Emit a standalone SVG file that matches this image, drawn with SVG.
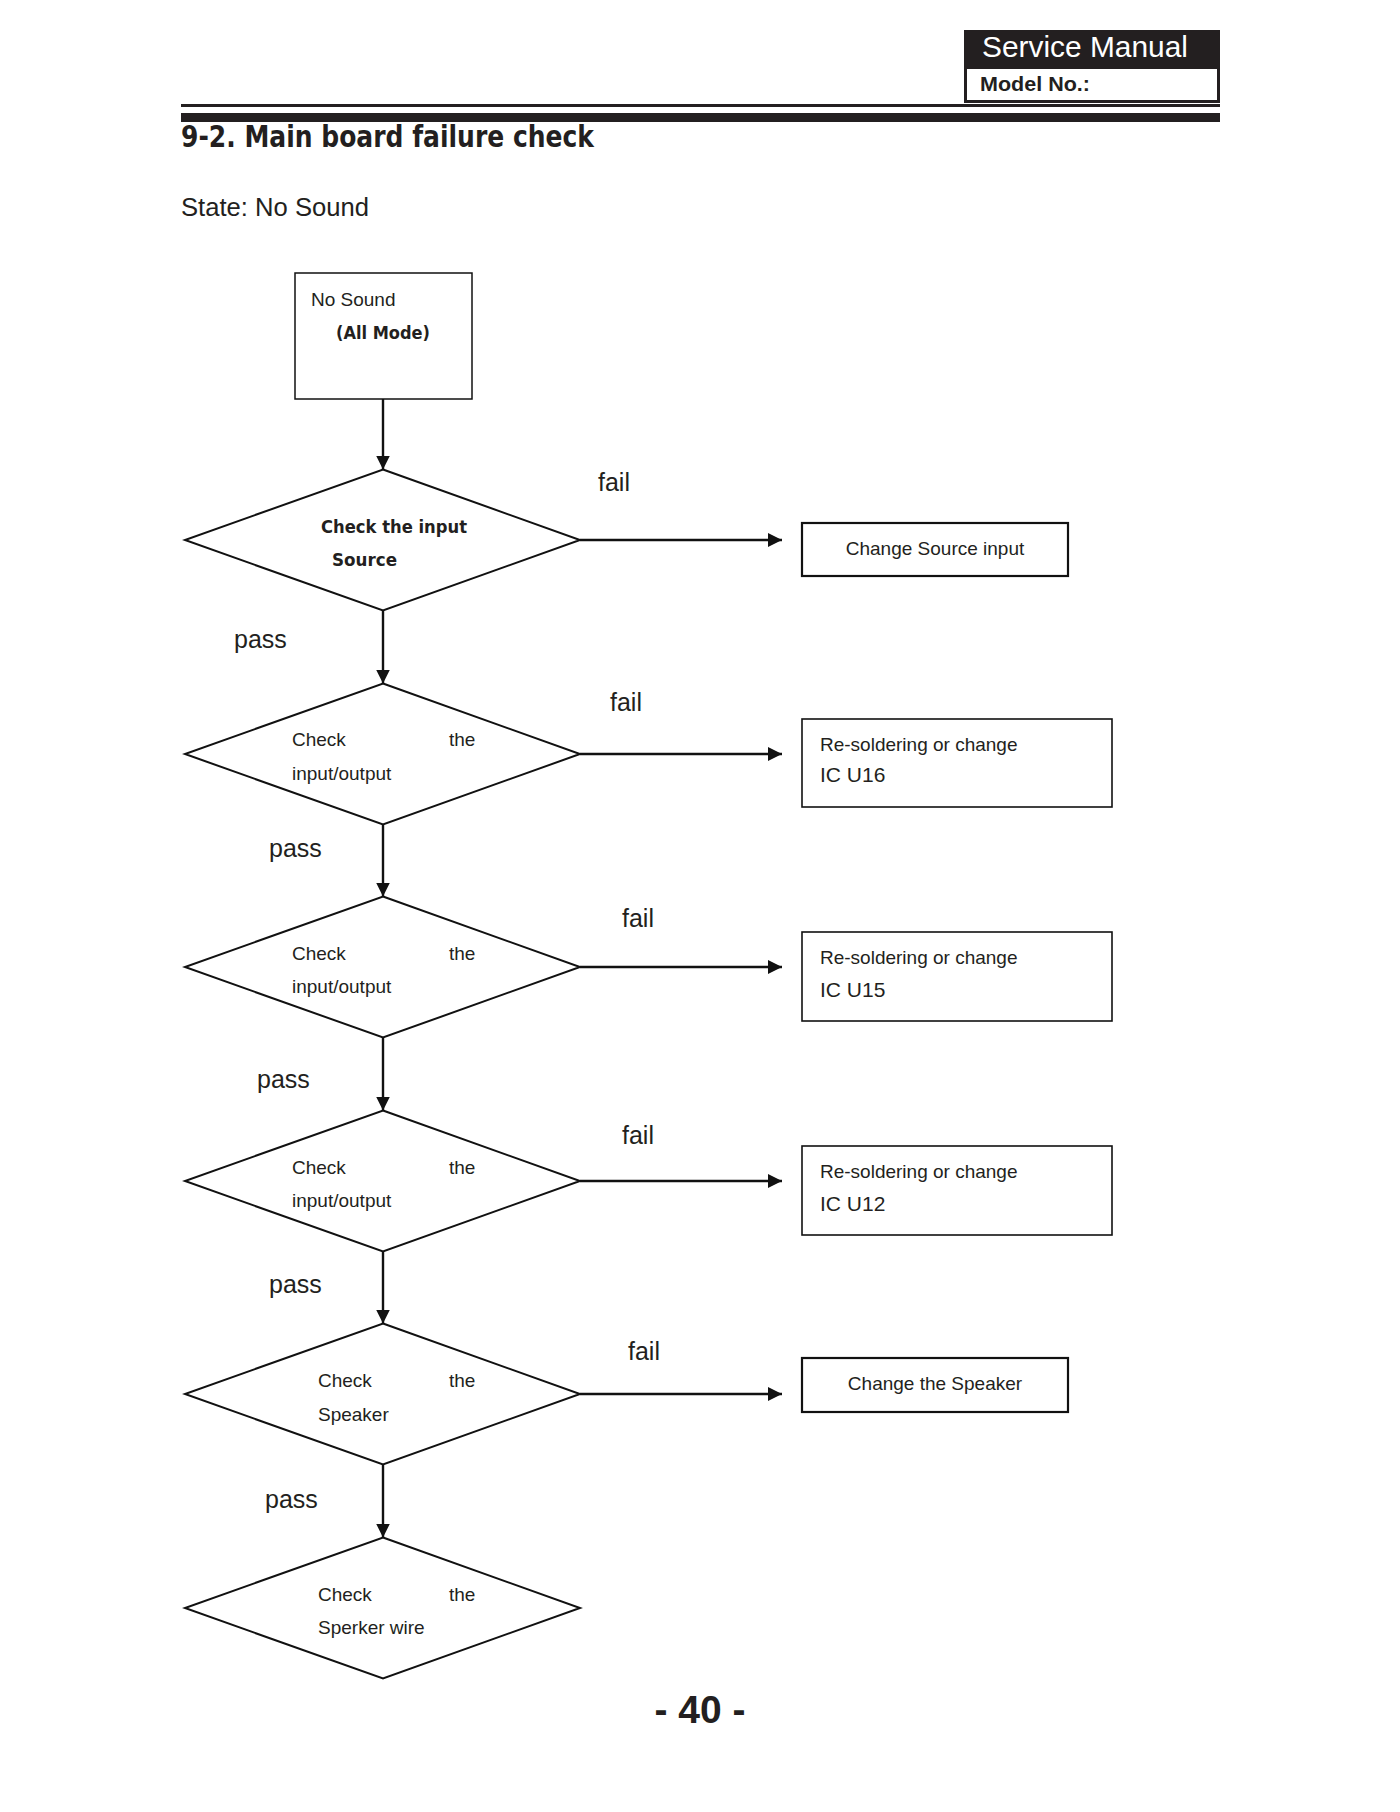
<svg xmlns="http://www.w3.org/2000/svg" width="1400" height="1812" viewBox="0 0 1400 1812">
<style>
.t{font-family:"Liberation Sans",Arial,sans-serif;fill:#231f20}
.b{font-family:"DejaVu Sans","Liberation Sans",sans-serif;font-weight:bold;fill:#231f20}
.n{font-size:19px}
.lbl{font-size:25px}
.shape{fill:#fff;stroke:#111;stroke-width:2}
.conn{stroke:#111;stroke-width:2.4;fill:none}
</style>
<defs>
<marker id="ah" markerUnits="userSpaceOnUse" markerWidth="15" markerHeight="14" refX="14" refY="7" orient="auto">
<path d="M0,0 L14,7 L0,14 z" fill="#111"/>
</marker>
</defs>
<rect width="1400" height="1812" fill="#fff"/>

<g id="header">
<rect x="964" y="30" width="256" height="73" fill="#231f20"/>
<rect x="967" y="69" width="250" height="31" fill="#fff"/>
<text x="982" y="57" class="t" style="fill:#fff;font-size:29px" textLength="206" lengthAdjust="spacingAndGlyphs">Service Manual</text>
<text x="980" y="91" class="t" style="font-weight:bold;font-size:20px" textLength="110" lengthAdjust="spacingAndGlyphs">Model No.:</text>
<rect x="181" y="104" width="1039" height="3" fill="#231f20"/>
<rect x="181" y="113" width="1039" height="9" fill="#231f20"/>
<text x="181" y="147" class="b" style="font-size:31px" textLength="413" lengthAdjust="spacingAndGlyphs">9-2. Main board failure check</text>
<text x="181" y="216" class="t" style="font-size:25px" textLength="188" lengthAdjust="spacingAndGlyphs">State: No Sound</text>
</g>

<g id="start">
<rect x="295" y="273" width="177" height="126" class="shape" style="stroke-width:1.5"/>
<text x="311" y="306" class="t n">No Sound</text>
<text x="336" y="339" class="b" style="font-size:18px" textLength="94" lengthAdjust="spacingAndGlyphs">(All Mode)</text>
</g>

<g id="d1">
<polygon points="383,469.5 580,540 383,610.5 185,540" class="shape"/>
<text x="321" y="533" class="b" style="font-size:18px" textLength="146" lengthAdjust="spacingAndGlyphs">Check the input</text>
<text x="332" y="566" class="b" style="font-size:18px" textLength="65" lengthAdjust="spacingAndGlyphs">Source</text>
</g>

<g id="d2">
<polygon points="383,683.5 580,754 383,824.5 185,754" class="shape"/>
<text x="292" y="746" class="t n">Check</text>
<text x="449" y="746" class="t n">the</text>
<text x="292" y="780" class="t n">input/output</text>
</g>

<g id="d3">
<polygon points="383,896.5 580,967 383,1037.5 185,967" class="shape"/>
<text x="292" y="960" class="t n">Check</text>
<text x="449" y="960" class="t n">the</text>
<text x="292" y="993" class="t n">input/output</text>
</g>

<g id="d4">
<polygon points="383,1110.5 580,1181 383,1251.5 185,1181" class="shape"/>
<text x="292" y="1174" class="t n">Check</text>
<text x="449" y="1174" class="t n">the</text>
<text x="292" y="1207" class="t n">input/output</text>
</g>

<g id="d5">
<polygon points="383,1323.5 580,1394 383,1464.5 185,1394" class="shape"/>
<text x="318" y="1387" class="t n">Check</text>
<text x="449" y="1387" class="t n">the</text>
<text x="318" y="1421" class="t n">Speaker</text>
</g>

<g id="d6">
<polygon points="383,1537.5 580,1608 383,1678.5 185,1608" class="shape"/>
<text x="318" y="1601" class="t n">Check</text>
<text x="449" y="1601" class="t n">the</text>
<text x="318" y="1634" class="t n">Sperker wire</text>
</g>

<g id="b1">
<rect x="802" y="523" width="266" height="53" class="shape" style="stroke-width:2.2"/>
<text x="935" y="555" class="t n" text-anchor="middle">Change Source input</text>
</g>

<g id="b2">
<rect x="802" y="719" width="310" height="88" class="shape" style="stroke-width:1.6"/>
<text x="820" y="751" class="t n">Re-soldering or change</text>
<text x="820" y="782" class="t" style="font-size:21px">IC U16</text>
</g>

<g id="b3">
<rect x="802" y="932" width="310" height="89" class="shape" style="stroke-width:1.6"/>
<text x="820" y="964" class="t n">Re-soldering or change</text>
<text x="820" y="997" class="t" style="font-size:21px">IC U15</text>
</g>

<g id="b4">
<rect x="802" y="1146" width="310" height="89" class="shape" style="stroke-width:1.6"/>
<text x="820" y="1178" class="t n">Re-soldering or change</text>
<text x="820" y="1211" class="t" style="font-size:21px">IC U12</text>
</g>

<g id="b5">
<rect x="802" y="1358" width="266" height="54" class="shape" style="stroke-width:2.2"/>
<text x="935" y="1390" class="t n" text-anchor="middle">Change the Speaker</text>
</g>

<g id="connectors">
<line x1="383" y1="399" x2="383" y2="469.5" class="conn" marker-end="url(#ah)"/>
<line x1="383" y1="610.5" x2="383" y2="683.5" class="conn" marker-end="url(#ah)"/>
<line x1="383" y1="824.5" x2="383" y2="896.5" class="conn" marker-end="url(#ah)"/>
<line x1="383" y1="1037.5" x2="383" y2="1110.5" class="conn" marker-end="url(#ah)"/>
<line x1="383" y1="1251.5" x2="383" y2="1323.5" class="conn" marker-end="url(#ah)"/>
<line x1="383" y1="1464.5" x2="383" y2="1537.5" class="conn" marker-end="url(#ah)"/>
<line x1="580" y1="540" x2="782" y2="540" class="conn" marker-end="url(#ah)"/>
<line x1="580" y1="754" x2="782" y2="754" class="conn" marker-end="url(#ah)"/>
<line x1="580" y1="967" x2="782" y2="967" class="conn" marker-end="url(#ah)"/>
<line x1="580" y1="1181" x2="782" y2="1181" class="conn" marker-end="url(#ah)"/>
<line x1="580" y1="1394" x2="782" y2="1394" class="conn" marker-end="url(#ah)"/>
<text x="598" y="491" class="t lbl">fail</text>
<text x="610" y="711" class="t lbl">fail</text>
<text x="622" y="927" class="t lbl">fail</text>
<text x="622" y="1144" class="t lbl">fail</text>
<text x="628" y="1360" class="t lbl">fail</text>
<text x="234" y="648" class="t lbl">pass</text>
<text x="269" y="857" class="t lbl">pass</text>
<text x="257" y="1088" class="t lbl">pass</text>
<text x="269" y="1293" class="t lbl">pass</text>
<text x="265" y="1508" class="t lbl">pass</text>
</g>

<text x="700" y="1723" class="t" style="font-weight:bold;font-size:39px" text-anchor="middle">- 40 -</text>
</svg>
